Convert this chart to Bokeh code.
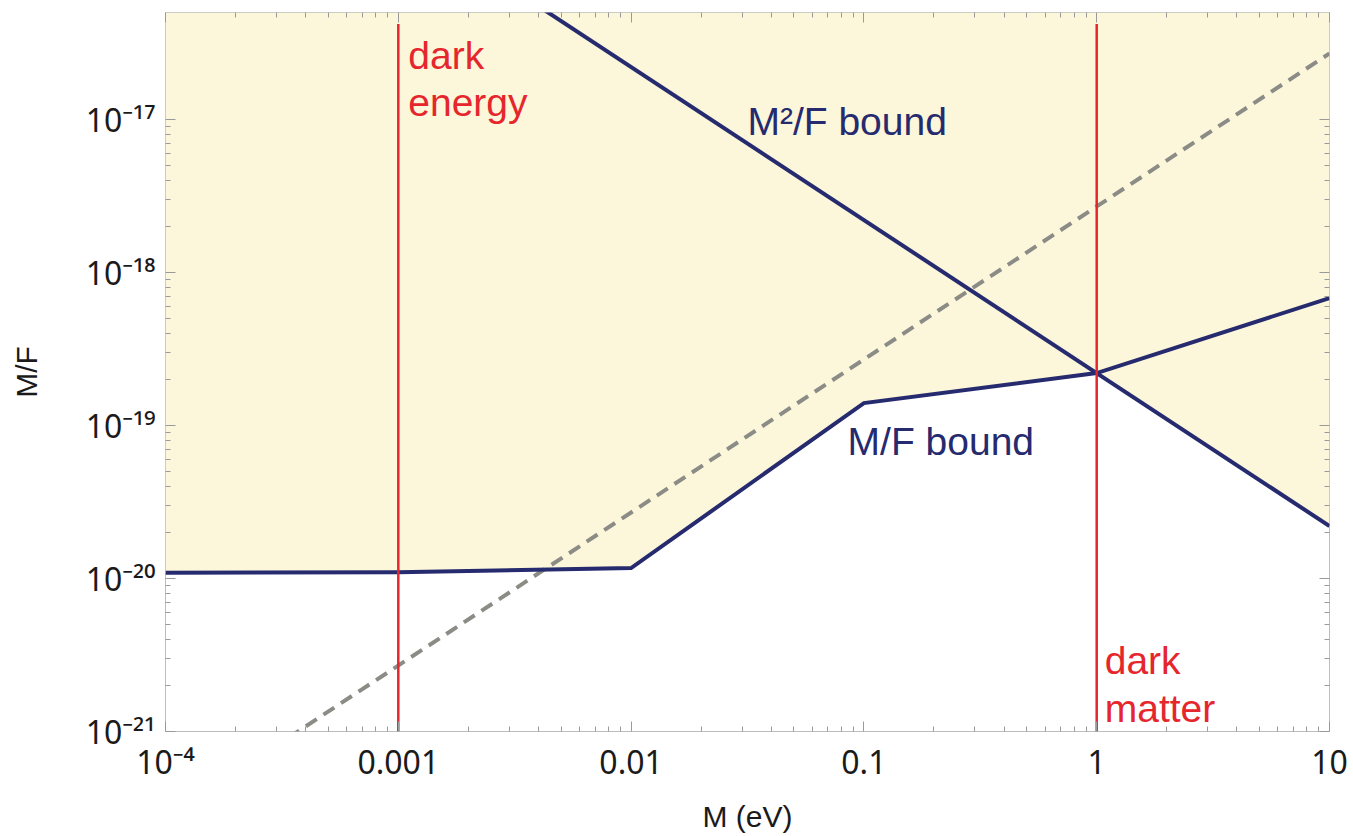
from bokeh.plotting import figure
from bokeh.models import FixedTicker, CustomJSTickFormatter, LogAxis
from bokeh.core.properties import value
from bokeh.embed import file_html
from bokeh.resources import INLINE

# ---- data ----
x_ticks = [1e-4, 1e-3, 1e-2, 1e-1, 1.0, 10.0]
x_labels = ["10⁻⁴", "0.001", "0.01", "0.1", "1", "10"]
y_ticks = [1e-21, 1e-20, 1e-19, 1e-18, 1e-17]
y_labels = ["10⁻²¹", "10⁻²⁰", "10⁻¹⁹", "10⁻¹⁸", "10⁻¹⁷"]

# M/F bound (solid navy, piecewise)
mf_M = [1e-4, 1e-3, 1e-2, 1e-1, 1.0, 10.0]
mf_val = [1.09e-20, 1.10e-20, 1.17e-20, 1.40e-19, 2.20e-19, 6.8e-19]

# M^2/F bound (solid navy, falling)
m2f_M = [1e-3, 10.0]
m2f_val = [2.2e-16, 2.2e-20]

# dashed grey line
dash_M = [1e-4, 10.0]
dash_val = [2.7e-22, 2.7e-17]

# vertical markers
mark_M = [1e-3, 1.0]
mark_lo = [1e-21, 1e-21]
mark_hi = [4.2e-17, 4.2e-17]

X_MIN, X_MAX = 1e-4, 10.0
Y_MIN, Y_MAX = 1e-21, 5e-17

NAVY = "#262A6E"
RED = "#E5262D"
FILL = "#FCF6DA"
FONT = "Liberation Sans"
TICK_FONT = "Noto Sans"

p = figure(width=1353, height=836, x_axis_type="log", y_axis_type="log",
           x_range=(X_MIN, X_MAX), y_range=(Y_MIN, Y_MAX),
           output_backend="svg", toolbar_location=None,
           min_border_left=165, min_border_right=24,
           min_border_top=12, min_border_bottom=105)
p.grid.visible = False
p.outline_line_color = "#BDBDBD"
p.outline_line_width = 1
p.background_fill_color = "white"
p.border_fill_color = "white"

def minors(ticks):
    out = []
    for d in ticks[:-1]:
        for k in range(2, 10):
            out.append(d * k)
    return out

fmt_code = """
for (let i = 0; i < vals.length; i++) {
  if (Math.abs(Math.log10(tick) - Math.log10(vals[i])) < 1e-6) return labs[i];
}
return "";
"""

def style(ax, labels=True):
    ax.axis_line_color = None
    ax.major_tick_in = 10
    ax.major_tick_out = 0
    ax.minor_tick_in = 5
    ax.minor_tick_out = 0
    ax.major_tick_line_color = "#9A9A9A"
    ax.minor_tick_line_color = "#9A9A9A"
    if labels:
        ax.major_label_text_font = TICK_FONT
        ax.major_label_text_font_size = "32px"
        ax.major_label_text_color = "#1A1A1A"
        ax.axis_label_text_font = FONT
        ax.axis_label_text_font_size = "30px"
        ax.axis_label_text_font_style = "normal"
        ax.axis_label_text_color = "#1A1A1A"
    else:
        ax.major_label_text_font_size = "2px"
        ax.major_label_text_color = None
        ax.major_label_standoff = 0

xa = p.xaxis[0]
xa.ticker = FixedTicker(ticks=x_ticks, minor_ticks=minors(x_ticks))
xa.formatter = CustomJSTickFormatter(args=dict(vals=x_ticks, labs=x_labels), code=fmt_code)
style(xa)
xa.major_label_standoff = 8
xa.axis_label = "M (eV)"
xa.axis_label_standoff = 14

ya = p.yaxis[0]
ya.ticker = FixedTicker(ticks=y_ticks, minor_ticks=minors(y_ticks))
ya.formatter = CustomJSTickFormatter(args=dict(vals=y_ticks, labs=y_labels), code=fmt_code)
style(ya)
ya.major_label_standoff = 10
ya.axis_label = "M/F"
ya.axis_label_standoff = 40

top_ax = LogAxis(ticker=FixedTicker(ticks=x_ticks, minor_ticks=minors(x_ticks)))
style(top_ax, labels=False)
p.add_layout(top_ax, "above")
right_ax = LogAxis(ticker=FixedTicker(ticks=y_ticks, minor_ticks=minors(y_ticks)))
style(right_ax, labels=False)
p.add_layout(right_ax, "right")

# shaded (allowed) region: above the lower of the two bounds
fill_lower = mf_val[:-1] + [m2f_val[-1]]
fill_upper = [Y_MAX] * len(mf_M)
p.varea(x=mf_M, y1=fill_lower, y2=fill_upper, fill_color=FILL, fill_alpha=1.0)

# dashed line
p.line(dash_M, dash_val, line_color="#8C8C86", line_width=4, line_dash="13 8")

# bounds
p.line(mf_M, mf_val, line_color=NAVY, line_width=4, line_join="miter")
p.line(m2f_M, m2f_val, line_color=NAVY, line_width=4)

# vertical markers
p.segment(x0=mark_M, y0=mark_lo, x1=mark_M, y1=mark_hi, line_color=RED, line_width=2.5)

# annotations
p.text(x=[1e-3], y=[3.64e-17], text=["dark\nenergy"], x_offset=10,
       text_font=value(FONT), text_font_size="39px", text_color=RED,
       text_baseline="top", text_align="left", text_line_height=1.1)
p.text(x=[1.0], y=[4.0e-21], text=["dark\nmatter"], x_offset=8,
       text_font=value(FONT), text_font_size="39px", text_color=RED,
       text_baseline="top", text_align="left", text_line_height=1.1)
p.text(x=[0.0316], y=[9.7e-18], text=["M²/F bound"],
       text_font=value(FONT), text_font_size="39px", text_color=NAVY,
       text_baseline="middle", text_align="left")
p.text(x=[0.0851], y=[7.9e-20], text=["M/F bound"],
       text_font=value(FONT), text_font_size="39px", text_color=NAVY,
       text_baseline="middle", text_align="left")

open("out.html", "w").write(file_html(p, INLINE))
